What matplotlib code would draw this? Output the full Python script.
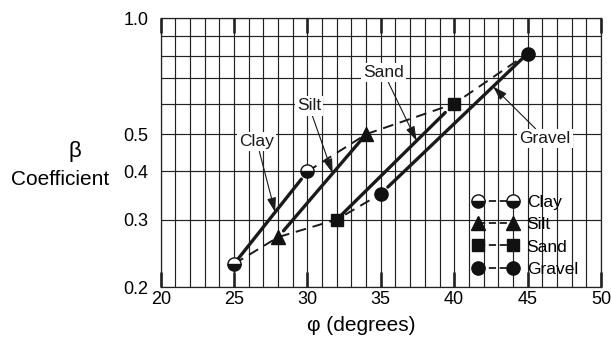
import matplotlib
matplotlib.use("Agg")
import matplotlib.pyplot as plt
import matplotlib.ticker as mticker
import numpy as np

# Friction angle range (phi, degrees) and beta coefficient per soil type
materials = ["Clay", "Silt", "Sand", "Gravel"]
phi_low = [25, 28, 32, 35]
beta_low = [0.23, 0.27, 0.30, 0.35]
phi_high = [30, 34, 40, 45]
beta_high = [0.40, 0.50, 0.60, 0.81]

x_ticks = [20, 25, 30, 35, 40, 45, 50]
y_ticks = [0.2, 0.3, 0.4, 0.5, 1.0]
y_tick_labels = ["0.2", "0.3", "0.4", "0.5", "1.0"]

plt.rcParams["font.family"] = ["Liberation Sans", "DejaVu Sans"]

MARKERS = {
    "Clay": dict(marker="o", fillstyle="bottom", markerfacecolor="#111111",
                 markerfacecoloralt="white", markersize=9.5),
    "Silt": dict(marker="^", markerfacecolor="#111111", markersize=10),
    "Sand": dict(marker="s", markerfacecolor="#111111", markersize=8.5),
    "Gravel": dict(marker="o", markerfacecolor="#111111", markersize=9.5),
}
# gap (points) left at the low / high end of each solid range line
SHRINK = {"Clay": (0, 7), "Silt": (6, 4), "Sand": (5, 9), "Gravel": (7, 4)}
# label placement: text position and where along the range line the arrow lands
LABELS = {
    "Clay": ((26.55, 0.478), 0.56),
    "Silt": ((30.1, 0.592), 0.62),
    "Sand": ((35.2, 0.722), 0.68),
    "Gravel": ((46.2, 0.488), 0.765),
}

fig = plt.figure(figsize=(6.11, 3.37), dpi=100)
ax = fig.add_axes([0.263, 0.1475, 0.7205, 0.798])

ax.set_yscale("log")
ax.set_xlim(20, 50)
ax.set_ylim(0.2, 1.0)

# grid: every degree, every 0.1 of beta
ax.set_xticks(x_ticks)
ax.xaxis.set_minor_locator(mticker.MultipleLocator(1))
ax.set_yticks(y_ticks)
ax.set_yticklabels(y_tick_labels)
ax.yaxis.set_minor_locator(mticker.FixedLocator(np.arange(0.2, 1.01, 0.1)))
ax.yaxis.set_minor_formatter(mticker.NullFormatter())
ax.grid(True, which="both", color="#222222", linewidth=0.85)
ax.set_axisbelow(True)
for s in ax.spines.values():
    s.set_color("#222222")
    s.set_linewidth(0.9)

ax.tick_params(axis="x", which="major", direction="in", top=True,
               length=11, width=1.9, color="#222222", labelsize=13, pad=3)
ax.tick_params(axis="x", which="minor", length=0)
ax.tick_params(axis="y", which="both", length=0, labelsize=13, pad=9)

# dashed envelopes through the low and high ends
dash = (0, (5.5, 3.5))
ax.plot(phi_low, beta_low, color="#1a1a1a", linestyle=dash,
        linewidth=1.4, zorder=2)
ax.plot(phi_high, beta_high, color="#1a1a1a", linestyle=dash,
        linewidth=1.4, zorder=2)

handles = []
for i, name in enumerate(materials):
    lo = (phi_low[i], beta_low[i])
    hi = (phi_high[i], beta_high[i])
    sa, sb = SHRINK[name]
    ax.annotate("", xy=hi, xytext=lo,
                arrowprops=dict(arrowstyle="-", lw=2.4, color="#1a1a1a",
                                shrinkA=sa, shrinkB=sb), zorder=3)
    style = MARKERS[name]
    ax.plot([lo[0], hi[0]], [lo[1], hi[1]], linestyle="none",
            color="#111111", markeredgecolor="#111111",
            markeredgewidth=1.0, zorder=4, **style)
    h, = ax.plot([], [], color="#1a1a1a", linestyle=(0, (4, 2)),
                 linewidth=1.3, markeredgecolor="#111111", **style)
    handles.append(h)

    (tx, ty), frac = LABELS[name]
    # arrow tip sits on the range line (straight in log space)
    px = lo[0] + frac * (hi[0] - lo[0])
    py = 10 ** (np.log10(lo[1]) + frac * (np.log10(hi[1]) - np.log10(lo[1])))
    ax.annotate(name, xy=(px, py), xytext=(tx, ty), ha="center", va="center",
                fontsize=12.5, color="#1a1a1a", zorder=5,
                bbox=dict(boxstyle="square,pad=0.12", fc="white", ec="none"),
                arrowprops=dict(arrowstyle="-|>,head_length=0.7,head_width=0.22",
                                lw=0.8, color="#1a1a1a", shrinkA=0, shrinkB=0))

leg = ax.legend(handles, materials, loc="upper left",
                bbox_to_anchor=(0.709, 0.345), frameon=False, numpoints=2,
                handlelength=2.6, handletextpad=0.5, labelspacing=0.42,
                borderpad=0, borderaxespad=0, fontsize=12.5)
leg.set_zorder(6)

fig.text(0.123, 0.549, "\u03b2", fontsize=16, ha="center", va="center")
fig.text(0.099, 0.466, "Coefficient", fontsize=15, ha="center", va="center")
fig.text(0.592, 0.034, "\u03c6 (degrees)", fontsize=15, ha="center",
         va="center")

fig.savefig("out.png", dpi=100, facecolor="white")
